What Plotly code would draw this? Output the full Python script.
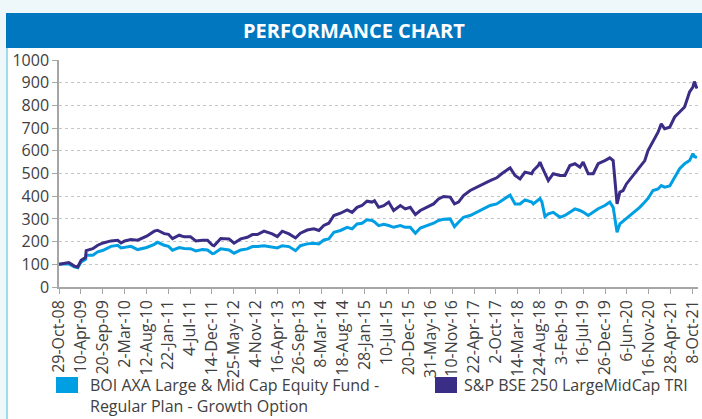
import pandas as pd
import plotly.graph_objects as go

# ---------------- data ----------------
dates = [
    "2008-10-29", "2008-12-09", "2009-01-10", "2009-02-21", "2009-03-18", "2009-04-12",
    "2009-05-15", "2009-05-20", "2009-07-08", "2009-08-14", "2009-09-23", "2009-11-21",
    "2010-01-10", "2010-02-04", "2010-03-03", "2010-04-19", "2010-06-08", "2010-08-14",
    "2010-10-10", "2010-11-03", "2010-12-23", "2011-01-24", "2011-02-23", "2011-04-14",
    "2011-05-21", "2011-07-07", "2011-08-16", "2011-10-04", "2011-11-11", "2011-12-18",
    "2011-12-30", "2012-02-18", "2012-04-20", "2012-05-27", "2012-07-16", "2012-09-03",
    "2012-10-11", "2012-11-17", "2013-01-06", "2013-03-08", "2013-04-15", "2013-05-22",
    "2013-07-11", "2013-08-29", "2013-10-04", "2013-11-24", "2014-01-13", "2014-02-19",
    "2014-03-28", "2014-05-04", "2014-06-11", "2014-07-30", "2014-09-18", "2014-10-25",
    "2014-12-01", "2015-01-07", "2015-02-13", "2015-03-23", "2015-04-10", "2015-05-11",
    "2015-06-18", "2015-07-25", "2015-08-31", "2015-10-20", "2015-11-26", "2016-01-02",
    "2016-02-09", "2016-03-17", "2016-05-05", "2016-06-24", "2016-07-31", "2016-09-06",
    "2016-10-26", "2016-11-27", "2016-12-27", "2017-02-02", "2017-03-24", "2017-05-12",
    "2017-07-01", "2017-08-20", "2017-10-08", "2017-11-14", "2018-01-16", "2018-02-22",
    "2018-03-31", "2018-05-07", "2018-06-26", "2018-07-08", "2018-08-14", "2018-08-27",
    "2018-09-10", "2018-10-03", "2018-10-28", "2018-12-04", "2019-01-23", "2019-03-01",
    "2019-04-07", "2019-05-15", "2019-06-21", "2019-07-15", "2019-08-22", "2019-09-28",
    "2019-11-04", "2019-12-24", "2020-01-30", "2020-02-24", "2020-03-24", "2020-04-14",
    "2020-05-08", "2020-06-02", "2020-07-22", "2020-09-09", "2020-10-17", "2020-11-10",
    "2020-12-17", "2021-01-24", "2021-02-17", "2021-03-14", "2021-04-21", "2021-05-28",
    "2021-07-04", "2021-08-10", "2021-09-16", "2021-10-11", "2021-10-22", "2021-11-10",
]

fund_values = [
    100, 101, 102, 89, 85, 110,
    122, 140, 140, 155, 162, 179,
    184, 172, 174, 179, 165, 174,
    188, 197, 184, 179, 162, 174,
    170, 169, 159, 165, 163, 147,
    148, 168, 163, 149, 163, 168,
    178, 178, 182, 175, 172, 182,
    178, 160, 182, 190, 193, 190,
    207, 212, 241, 249, 263, 256,
    278, 281, 296, 293, 287, 270,
    276, 271, 263, 271, 263, 263,
    237, 260, 271, 281, 293, 298,
    300, 266, 285, 307, 315, 329,
    344, 359, 366, 381, 405, 366,
    366, 384, 374, 366, 384, 390,
    375, 310, 322, 329, 307, 315,
    329, 344, 337, 330, 315, 329,
    345, 359, 374, 351, 241, 278,
    290, 300, 329, 351, 374, 390,
    425, 432, 447, 440, 445, 484,
    521, 543, 557, 587, 575, 570,
]

index_values = [
    100, 106, 108, 92, 88, 118,
    130, 160, 169, 184, 194, 203,
    206, 194, 203, 209, 206, 224,
    246, 250, 235, 232, 213, 228,
    221, 221, 203, 206, 206, 184,
    182, 214, 212, 193, 212, 219,
    231, 231, 246, 234, 222, 246,
    234, 216, 237, 251, 256, 249,
    271, 281, 315, 325, 340, 329,
    351, 359, 378, 374, 380, 351,
    358, 374, 337, 359, 344, 351,
    319, 337, 351, 366, 388, 399,
    396, 366, 374, 403, 425, 440,
    457, 469, 481, 499, 525, 491,
    476, 506, 499, 513, 535, 550,
    530, 500, 469, 499, 491, 491,
    535, 543, 528, 550, 499, 499,
    543, 557, 569, 557, 366, 418,
    425, 454, 491, 528, 557, 601,
    638, 682, 719, 697, 704, 749,
    771, 793, 859, 881, 905, 874,
]

tick_labels = [
    "29-Oct-08", "10-Apr-09", "20-Sep-09", "2-Mar-10", "12-Aug-10", "22-Jan-11",
    "4-Jul-11", "14-Dec-11", "25-May-12", "4-Nov-12", "16-Apr-13", "26-Sep-13",
    "8-Mar-14", "18-Aug-14", "28-Jan-15", "10-Jul-15", "20-Dec-15", "31-May-16",
    "10-Nov-16", "22-Apr-17", "2-Oct-17", "14-Mar-18", "24-Aug-18", "3-Feb-19",
    "16-Jul-19", "26-Dec-19", "6-Jun-20", "16-Nov-20", "28-Apr-21", "8-Oct-21",
]

series_names = [
    "BOI AXA Large & Mid Cap Equity Fund -<br>Regular Plan - Growth Option",
    "S&P BSE 250 LargeMidCap TRI",
]
series_colors = ["#009fe3", "#3a2d86"]
title_text = "PERFORMANCE CHART"

# ---------------- layout helpers ----------------
W, H = 702, 419
L, R, T, B = 59, 4, 60, 132
PW, PH = W - L - R, H - T - B


def px(x):
    return (x - L) / PW


def py(y):
    return 1 - (y - T) / PH


tick_vals = [pd.to_datetime(t, format="%d-%b-%y").strftime("%Y-%m-%d") for t in tick_labels]

fig = go.Figure()
fig.add_trace(go.Scatter(x=dates, y=fund_values, mode="lines", name=series_names[0],
                         line=dict(color=series_colors[0], width=3)))
fig.add_trace(go.Scatter(x=dates, y=index_values, mode="lines", name=series_names[1],
                         line=dict(color=series_colors[1], width=3)))

font_family = "Open Sans, Noto Sans, DejaVu Sans, sans-serif"
tick_font = dict(family=font_family, size=16, color="#404040")

shapes = [
    # white card
    dict(type="rect", xref="paper", yref="paper", x0=px(7), x1=px(W + 5), y0=py(48), y1=py(H + 5),
         fillcolor="white", line=dict(width=0), layer="below"),
    # left border
    dict(type="line", xref="paper", yref="paper", x0=px(7), x1=px(7), y0=py(46), y1=py(H + 5),
         line=dict(color="#9fdbe8", width=2)),
    # title bar
    dict(type="rect", xref="paper", yref="paper", x0=px(6), x1=px(W + 5), y0=py(13), y1=py(48),
         fillcolor="#0077bf", line=dict(width=0)),
    # legend swatches
    dict(type="rect", xref="paper", yref="paper", x0=px(56), x1=px(78), y0=py(377), y1=py(393),
         fillcolor=series_colors[0], line=dict(width=0)),
    dict(type="rect", xref="paper", yref="paper", x0=px(435), x1=px(457), y0=py(377), y1=py(393),
         fillcolor=series_colors[1], line=dict(width=0)),
]

annotations = [
    dict(text=title_text, xref="paper", yref="paper", x=px(354), y=py(30.5), showarrow=False,
         xanchor="center", yanchor="middle",
         font=dict(family=font_family, size=20, color="white", weight="bold")),
    dict(text=series_names[0], xref="paper", yref="paper", x=px(88), y=py(372), showarrow=False,
         xanchor="left", yanchor="top", align="left",
         font=dict(family=font_family, size=16, color="#404040")),
    dict(text=series_names[1], xref="paper", yref="paper", x=px(462), y=py(372), showarrow=False,
         xanchor="left", yanchor="top", align="left",
         font=dict(family=font_family, size=16, color="#404040")),
]

fig.update_layout(
    width=W, height=H, autosize=False,
    margin=dict(l=L, r=R, t=T, b=B, pad=0),
    paper_bgcolor="#eef8fb", plot_bgcolor="white",
    showlegend=False,
    shapes=shapes, annotations=annotations,
    xaxis=dict(
        type="date", range=["2008-10-29", "2021-11-18"],
        tickmode="array", tickvals=tick_vals, ticktext=tick_labels, tickangle=-90,
        showgrid=False, zeroline=False,
        showline=True, linecolor="#a6a6a6", linewidth=1.5,
        ticks="outside", ticklen=5, tickcolor="#a6a6a6", tickwidth=1,
        tickfont=tick_font, automargin=False, ticklabeloverflow="allow",
    ),
    yaxis=dict(
        range=[0, 1000], dtick=100, tick0=0,
        showgrid=True, gridcolor="#c6c6c6", griddash="dot", gridwidth=1,
        zeroline=False,
        showline=True, linecolor="#a6a6a6", linewidth=1.5,
        ticks="outside", ticklen=5, tickcolor="#a6a6a6", tickwidth=1,
        tickfont=tick_font, automargin=False, ticklabeloverflow="allow",
    ),
)

fig.write_html("out.html")
